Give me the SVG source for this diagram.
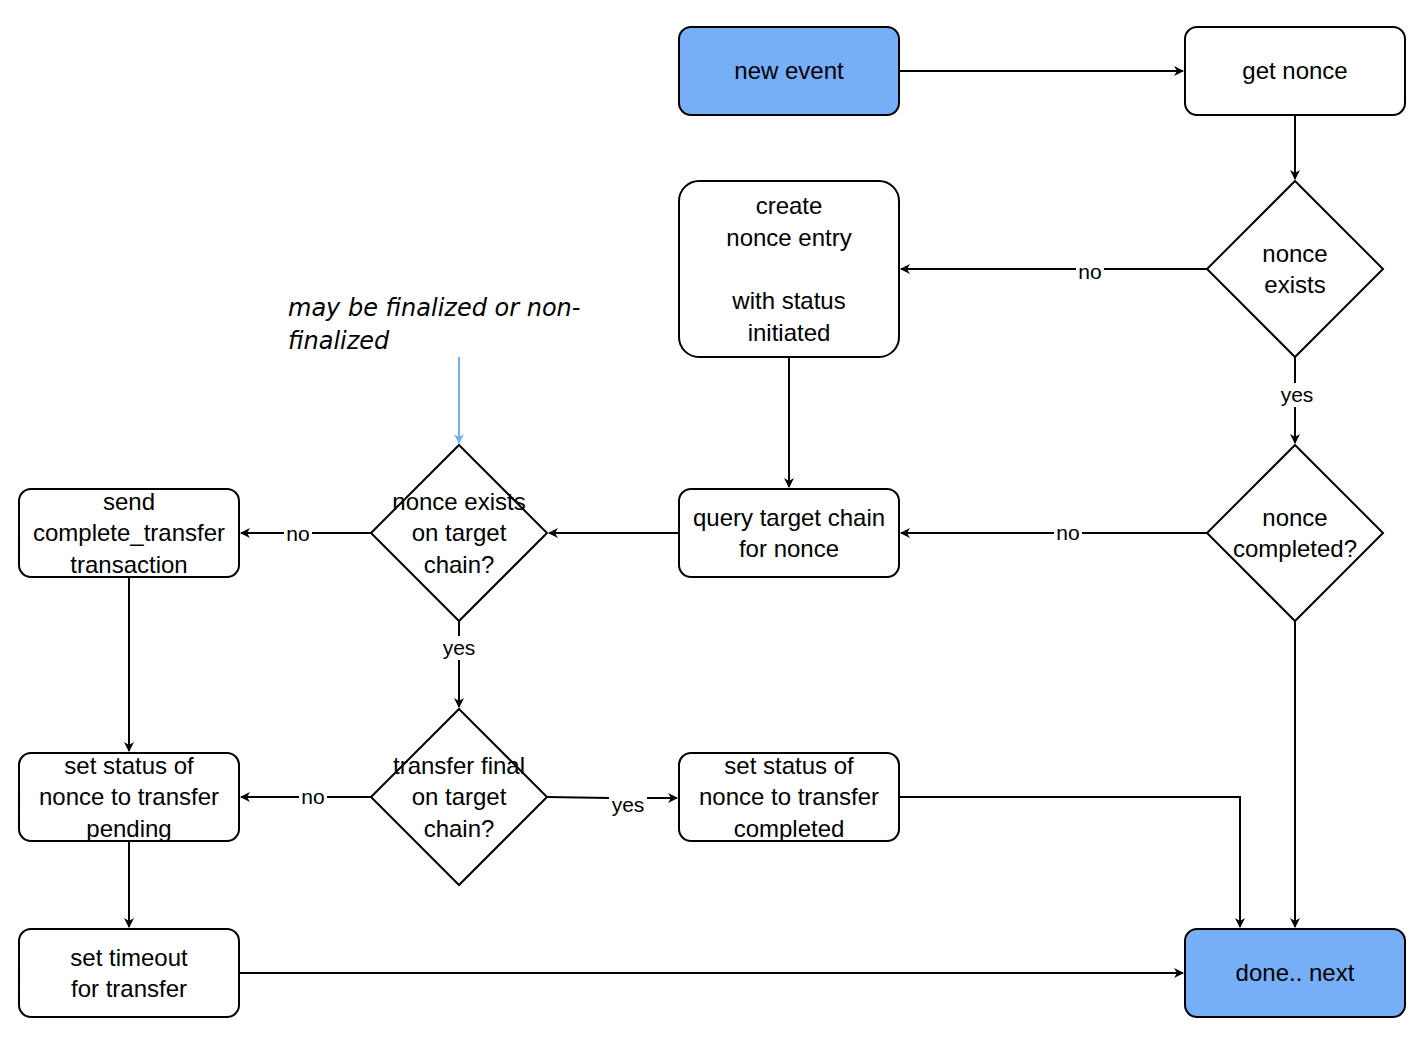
<svg xmlns="http://www.w3.org/2000/svg" width="1424" height="1038" viewBox="0 0 1424 1038">
<style>
.n{fill:#fff;stroke:#000;stroke-width:2}
.b{fill:#76AEF8}
.t{font-family:"Liberation Sans",Arial,sans-serif;font-size:24px;text-anchor:middle;fill:#000}
.l{font-family:"Liberation Sans",Arial,sans-serif;font-size:21px;text-anchor:middle;fill:#000}
.c{fill:none;stroke:#000;stroke-width:2;marker-end:url(#a)}
.lb{fill:#fff}
</style>
<defs>
<marker id="a" viewBox="0 0 10 10" refX="9" refY="5" markerWidth="10" markerHeight="10" markerUnits="userSpaceOnUse" orient="auto"><path d="M0,0 L10,5 L0,10 L3,5 Z" fill="#000"/></marker>
<marker id="ab" viewBox="0 0 10 10" refX="9" refY="5" markerWidth="10" markerHeight="10" markerUnits="userSpaceOnUse" orient="auto"><path d="M0,0 L10,5 L0,10 L3,5 Z" fill="#76AEF8"/></marker>
</defs>
<rect width="1424" height="1038" fill="#fff"/>
<g id="connectors">
<path class="c" d="M899,71 H1183"/>
<path class="c" d="M1295,115 V179"/>
<path class="c" d="M1207,269 H901"/>
<path class="c" d="M1295,357 V443"/>
<path class="c" d="M789,357 V487"/>
<path class="c" d="M1207,533 H901"/>
<path class="c" d="M1295,621 V927"/>
<path class="c" d="M679,533 H549"/>
<path class="c" d="M371,533 H241"/>
<path class="c" d="M459,621 V707"/>
<path class="c" d="M129,577 V751"/>
<path class="c" d="M371,797 H241"/>
<path class="c" d="M547,797 L610,798 H677"/>
<path class="c" d="M899,797 H1240 V927"/>
<path class="c" d="M129,841 V927"/>
<path class="c" d="M239,973 H1183"/>
<path d="M459,357 V443" fill="none" stroke="#76AEF8" stroke-width="2" marker-end="url(#ab)"/>
<rect class="lb" x="1076" y="259" width="28" height="22"/><text class="l" x="1090" y="279">no</text>
<rect class="lb" x="1277" y="383" width="38" height="24"/><text class="l" x="1297" y="402">yes</text>
<rect class="lb" x="1054" y="523" width="28" height="22"/><text class="l" x="1068" y="540">no</text>
<rect class="lb" x="284" y="523" width="28" height="22"/><text class="l" x="298" y="541">no</text>
<rect class="lb" x="440" y="636" width="38" height="24"/><text class="l" x="459" y="655">yes</text>
<rect class="lb" x="299" y="787" width="28" height="22"/><text class="l" x="313" y="804">no</text>
<rect class="lb" x="609" y="793" width="38" height="24"/><text class="l" x="628" y="812">yes</text>
</g>
<g id="new-event"><rect class="n b" x="679" y="27" width="220" height="88" rx="12"/><text class="t" x="789" y="79">new event</text></g>
<g id="get-nonce"><rect class="n" x="1185" y="27" width="220" height="88" rx="12"/><text class="t" x="1295" y="79">get nonce</text></g>
<g id="nonce-exists"><path class="n" d="M1295,181 L1383,269 L1295,357 L1207,269 Z"/><text class="t" x="1295" y="262">nonce</text><text class="t" x="1295" y="293">exists</text></g>
<g id="create-nonce"><rect class="n" x="679" y="181" width="220" height="176" rx="20"/><text class="t" x="789" y="214">create</text><text class="t" x="789" y="246">nonce entry</text><text class="t" x="789" y="309">with status</text><text class="t" x="789" y="341">initiated</text></g>
<g id="nonce-completed"><path class="n" d="M1295,445 L1383,533 L1295,621 L1207,533 Z"/><text class="t" x="1295" y="526">nonce</text><text class="t" x="1295" y="557">completed?</text></g>
<g id="query"><rect class="n" x="679" y="489" width="220" height="88" rx="12"/><text class="t" x="789" y="526">query target chain</text><text class="t" x="789" y="557">for nonce</text></g>
<g id="exists-target"><path class="n" d="M459,445 L547,533 L459,621 L371,533 Z"/><text class="t" x="459" y="510">nonce exists</text><text class="t" x="459" y="541">on target</text><text class="t" x="459" y="573">chain?</text></g>
<g id="send"><rect class="n" x="19" y="489" width="220" height="88" rx="12"/><text class="t" x="129" y="510">send</text><text class="t" x="129" y="541">complete_transfer</text><text class="t" x="129" y="573">transaction</text></g>
<g id="transfer-final"><path class="n" d="M459,709 L547,797 L459,885 L371,797 Z"/><text class="t" x="459" y="774">transfer final</text><text class="t" x="459" y="805">on target</text><text class="t" x="459" y="837">chain?</text></g>
<g id="pending"><rect class="n" x="19" y="753" width="220" height="88" rx="12"/><text class="t" x="129" y="774">set status of</text><text class="t" x="129" y="805">nonce to transfer</text><text class="t" x="129" y="837">pending</text></g>
<g id="completed"><rect class="n" x="679" y="753" width="220" height="88" rx="12"/><text class="t" x="789" y="774">set status of</text><text class="t" x="789" y="805">nonce to transfer</text><text class="t" x="789" y="837">completed</text></g>
<g id="timeout"><rect class="n" x="19" y="929" width="220" height="88" rx="12"/><text class="t" x="129" y="966">set timeout</text><text class="t" x="129" y="997">for transfer</text></g>
<g id="done"><rect class="n b" x="1185" y="929" width="220" height="88" rx="12"/><text class="t" x="1295" y="981">done.. next</text></g>
<g id="note"><text font-family="'DejaVu Sans',sans-serif" font-style="italic" font-size="24" x="288" y="316">may be finalized or non-</text><text font-family="'DejaVu Sans',sans-serif" font-style="italic" font-size="24" x="288" y="349">finalized</text></g>
</svg>
